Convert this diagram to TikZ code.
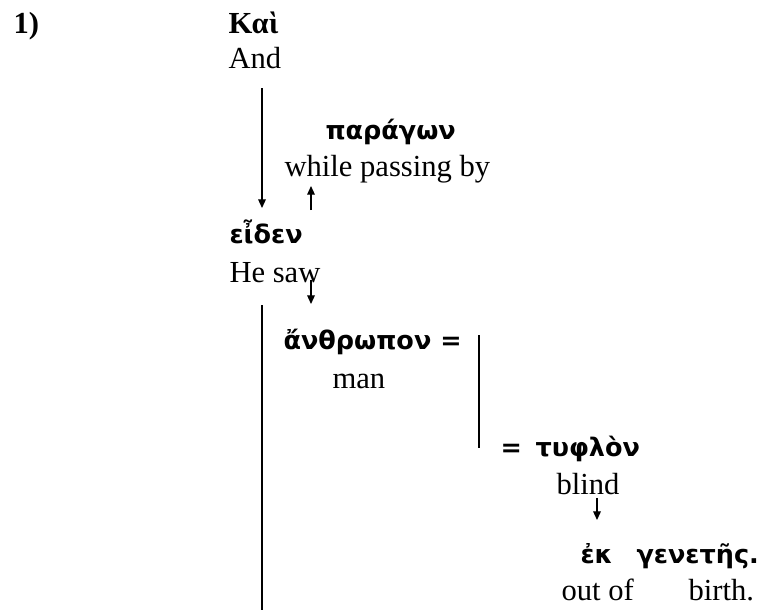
\documentclass[tikz,border=0pt]{standalone}
\usepackage{fontspec}
\setmainfont{Liberation Serif}
\newfontfamily\gkfont{DejaVu Sans}
\usetikzlibrary{arrows.meta}
\begin{document}
\begin{tikzpicture}[x=0.3922pt,y=-0.3922pt,
  eng/.style={anchor=base west,inner sep=0pt,font=\fontsize{12pt}{14pt}\selectfont},
  engb/.style={eng,font=\fontsize{12pt}{14pt}\selectfont\bfseries},
  grk/.style={anchor=base west,inner sep=0pt,font=\gkfont\bfseries\fontsize{10pt}{12pt}\selectfont},
  rule/.style={line width=0.5pt},
  arr/.style={rule,-{Triangle[length=3.4pt,width=3pt]}}]
\useasboundingbox (0,0) rectangle (784,610);
% clause number and main words
\node[engb] (num) at (13,33) {1)};
\node[engb] (kai) at (228,33) {Καὶ};
\node[eng] (kaiE) at (228,68) {And};
\node[grk] (parag) at (325,139) {παράγων};
\node[eng] (paragE) at (284,176) {while passing by};
\node[grk] (eiden) at (229,243) {εἶδεν};
\node[eng] (eidenE) at (229,282) {He saw};
\node[grk] (anthr) at (283,349) {ἄνθρωπον =};
\node[eng] (anthrE) at (332,388) {man};
\node[grk] (tyflonEq) at (500,456) {=};
\node[grk] (tyflon) at (535,456) {τυφλὸν};
\node[eng] (tyflonE) at (556,494) {blind};
\node[grk] (ek) at (580,563) {ἐκ};
\node[grk] (genetes) at (636,563) {γενετῆς.};
\node[eng] (ekE) at (561,600) {out of};
\node[eng] (genetesE) at (688,600) {birth.};
% connector end points
\coordinate (c1a) at (262,88);  \coordinate (c1b) at (262,208);
\coordinate (c2a) at (311,210); \coordinate (c2b) at (311,186);
\coordinate (c3a) at (311,280); \coordinate (c3b) at (311,304);
\coordinate (c4a) at (262,305); \coordinate (c4b) at (262,610);
\coordinate (c5a) at (479,335); \coordinate (c5b) at (479,448);
\coordinate (c6a) at (597,498); \coordinate (c6b) at (597,520);
\draw[arr] (c1a) -- (c1b);
\draw[arr] (c2a) -- (c2b);
\draw[arr] (c3a) -- (c3b);
\draw[rule] (c4a) -- (c4b);
\draw[rule] (c5a) -- (c5b);
\draw[arr] (c6a) -- (c6b);
\end{tikzpicture}
\end{document}
